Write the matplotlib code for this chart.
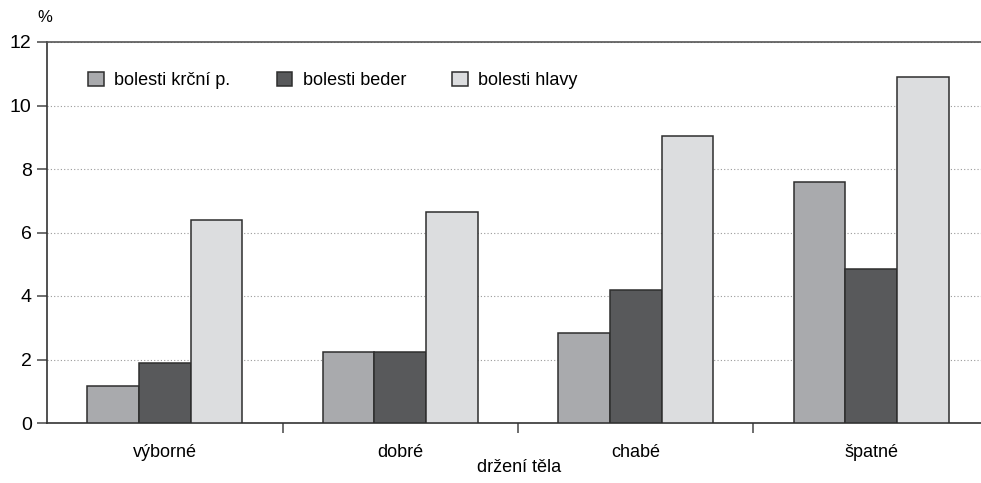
import matplotlib.pyplot as plt
import numpy as np
from matplotlib.ticker import FixedLocator

plt.rcParams["font.family"] = ["Liberation Sans Narrow", "Liberation Sans", "DejaVu Sans"]

categories = ["výborné", "dobré", "chabé", "špatné"]
series_names = ["bolesti krční p.", "bolesti beder", "bolesti hlavy"]
krcni = [1.15, 2.25, 2.85, 7.6]
beder = [1.9, 2.25, 4.2, 4.85]
hlavy = [6.4, 6.65, 9.05, 10.9]
colors = ["#a9aaad", "#58595b", "#dcdddf"]

fig = plt.figure(figsize=(9.81, 4.83), dpi=100)
ax = fig.add_axes([47 / 981, 60 / 483, 942 / 981, 381 / 483])

x = np.arange(len(categories))
width = 0.22
for i, (vals, name) in enumerate(zip([krcni, beder, hlavy], series_names)):
    ax.bar(x + (i - 1) * width, vals, width, color=colors[i], edgecolor="#2e2e2e",
           linewidth=1.1, label=name, zorder=3)

ax.set_xlim(-0.5, 3.5)
ax.set_ylim(0, 12)
ax.set_yticks(range(0, 13, 2))
ax.yaxis.grid(True, linestyle=(0, (1, 2)), color="#9a9a9a", linewidth=0.8, zorder=0)
ax.set_axisbelow(True)

ax.set_xticks(x)
ax.set_xticklabels(categories, fontsize=13)
ax.tick_params(axis="x", length=0, pad=15)
ax.xaxis.set_minor_locator(FixedLocator([0.5, 1.5, 2.5]))
ax.tick_params(axis="x", which="minor", length=7, color="#555555", width=1.2)
ax.tick_params(axis="y", labelsize=14, length=7, color="#555555", width=1.2, pad=4)

ax.spines["right"].set_visible(False)
for s in ["left", "bottom", "top"]:
    ax.spines[s].set_color("#333333")
    ax.spines[s].set_linewidth(1.2)
ax.spines["top"].set_color("#555555")

ax.set_xlabel("držení těla", fontsize=13, labelpad=2)
ax.xaxis.set_label_coords((519 - 47) / 942, -0.095)
fig.text(45 / 981, 1 - 18 / 483, "%", fontsize=12, ha="center", va="center")

ax.legend(loc="upper left", bbox_to_anchor=(0.0265, 0.965), ncol=3, frameon=False,
          fontsize=13, handlelength=0.85, handleheight=0.85, handletextpad=0.6,
          columnspacing=2.55)

fig.savefig("out.png", dpi=100)
